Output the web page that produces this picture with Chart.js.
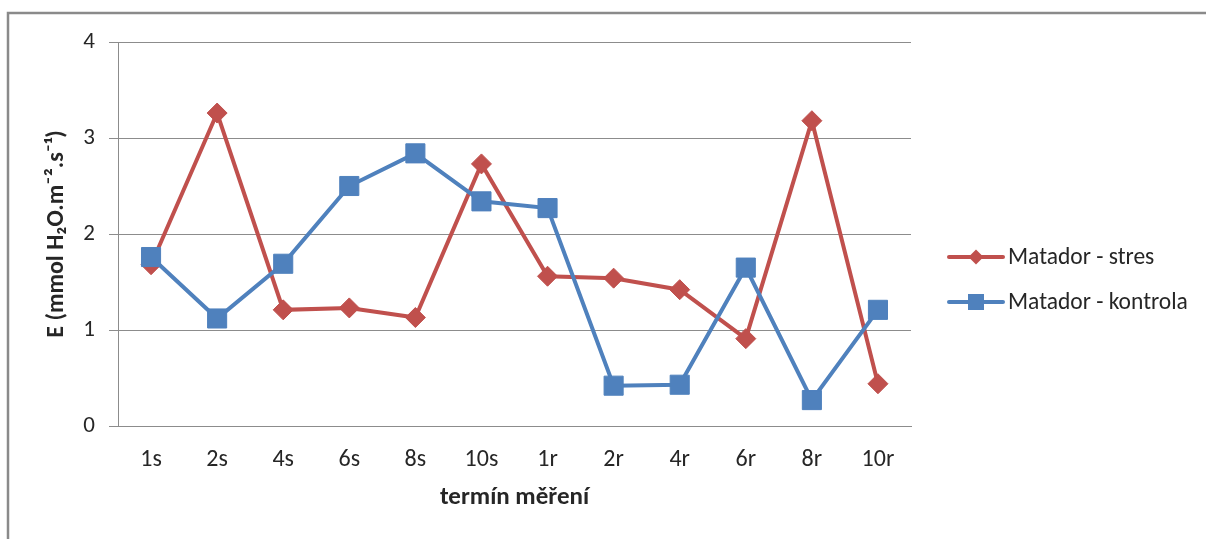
<!DOCTYPE html>
<html>
<head>
<meta charset="utf-8">
<script src="https://cdn.jsdelivr.net/npm/chart.js@4"></script>
<style>
  html, body { margin: 0; padding: 0; background: #ffffff; }
  canvas { display: block; }
</style>
</head>
<body>
<canvas id="chart" width="1206" height="539"></canvas>
<script>
// Measurement terms (s = stress phase, r = recovery phase)
const categories = ['1s', '2s', '4s', '6s', '8s', '10s', '1r', '2r', '4r', '6r', '8r', '10r'];

// Transpiration rate E (mmol H2O m-2 s-1)
const stresValues    = [1.68, 3.26, 1.21, 1.23, 1.13, 2.73, 1.56, 1.54, 1.42, 0.91, 3.18, 0.44];
const kontrolaValues = [1.76, 1.12, 1.69, 2.50, 2.84, 2.34, 2.27, 0.42, 0.43, 1.65, 0.27, 1.21];

const seriesNames = ['Matador - stres', 'Matador - kontrola'];
const yTicks = [0, 1, 2, 3, 4];
const xTitle = 'termín měření';
const yTitle = 'E (mmol H₂O.m⁻².s⁻¹)';

const FONT = 'Calibri, Carlito, Lato, sans-serif';
const RED = '#C0504D';
const BLUE = '#4F81BD';
const GRID = '#8c8c8c';
const TEXT = '#262626';

// Outer frame lines of the chart box
const framePlugin = {
  id: 'frame',
  beforeDraw(chart) {
    const ctx = chart.ctx;
    ctx.save();
    ctx.fillStyle = '#ffffff';
    ctx.fillRect(0, 0, chart.width, chart.height);
    ctx.strokeStyle = '#8a8a8a';
    ctx.lineWidth = 2.5;
    ctx.beginPath();
    ctx.moveTo(8, chart.height);
    ctx.lineTo(8, 13);
    ctx.lineTo(chart.width, 13);
    ctx.stroke();
    ctx.restore();
  }
};

// Legend with line sample + marker, drawn to the right of the plot area
const lineLegendPlugin = {
  id: 'lineLegend',
  afterDraw(chart) {
    const ctx = chart.ctx;
    const area = chart.chartArea;
    const x0 = area.right + 38;
    const x1 = x0 + 54;
    const startY = area.top + 215;
    const gap = 45;
    ctx.save();
    chart.data.datasets.forEach((ds, i) => {
      const y = startY + i * gap;
      const cx = (x0 + x1) / 2;
      ctx.strokeStyle = ds.borderColor;
      ctx.lineWidth = ds.borderWidth;
      ctx.lineCap = 'round';
      ctx.beginPath();
      ctx.moveTo(x0, y);
      ctx.lineTo(x1, y);
      ctx.stroke();
      ctx.fillStyle = ds.pointBackgroundColor;
      ctx.beginPath();
      if (ds.pointStyle === 'rectRot') {
        const r = 7.5;
        ctx.moveTo(cx, y - r);
        ctx.lineTo(cx + r, y);
        ctx.lineTo(cx, y + r);
        ctx.lineTo(cx - r, y);
        ctx.closePath();
      } else {
        const h = 8;
        ctx.rect(cx - h, y - h, 2 * h, 2 * h);
      }
      ctx.fill();
      ctx.fillStyle = TEXT;
      ctx.font = '23.5px ' + FONT;
      ctx.textAlign = 'left';
      ctx.textBaseline = 'middle';
      ctx.fillText(ds.label, x1 + 5, y + 1);
    });
    ctx.restore();
  }
};

new Chart(document.getElementById('chart'), {
  type: 'line',
  data: {
    labels: categories,
    datasets: [
      {
        label: seriesNames[0],
        data: stresValues,
        borderColor: RED,
        backgroundColor: RED,
        pointBackgroundColor: RED,
        pointBorderColor: RED,
        borderWidth: 4,
        pointStyle: 'rectRot',
        pointRadius: 10,
        pointBorderWidth: 1,
        tension: 0,
        order: 1
      },
      {
        label: seriesNames[1],
        data: kontrolaValues,
        borderColor: BLUE,
        backgroundColor: BLUE,
        pointBackgroundColor: BLUE,
        pointBorderColor: BLUE,
        borderWidth: 4,
        pointStyle: 'rect',
        pointRadius: 13.5,
        pointBorderWidth: 1,
        tension: 0,
        order: 0
      }
    ]
  },
  options: {
    responsive: false,
    animation: false,
    devicePixelRatio: 1,
    layout: { padding: { top: 42, right: 295, left: 0, bottom: 0 } },
    plugins: {
      legend: { display: false },
      tooltip: { enabled: false }
    },
    scales: {
      x: {
        type: 'category',
        offset: true,
        grid: { display: false, drawTicks: false },
        border: { display: true, color: GRID, width: 1 },
        ticks: {
          color: TEXT,
          font: { family: FONT, size: 24 },
          padding: 20,
          maxRotation: 0,
          autoSkip: false
        },
        title: {
          display: true,
          text: xTitle,
          color: TEXT,
          font: { family: FONT, size: 25, weight: 'bold', lineHeight: 1.2 },
          padding: { top: 0, bottom: 26 }
        },
        afterFit(scale) { scale.height = 113; }
      },
      y: {
        min: 0,
        max: 4,
        afterBuildTicks(scale) { scale.ticks = yTicks.map(v => ({ value: v })); },
        grid: { color: GRID, lineWidth: 1, drawTicks: true, tickLength: 9 },
        border: { display: true, color: GRID, width: 1 },
        ticks: {
          color: TEXT,
          font: { family: FONT, size: 23 },
          padding: 14
        },
        title: {
          display: true,
          text: yTitle,
          color: TEXT,
          font: { family: FONT, size: 24, weight: 'bold', lineHeight: 1.2 },
          padding: { top: 43, bottom: 0 }
        },
        afterFit(scale) { scale.width = 118; }
      }
    }
  },
  plugins: [framePlugin, lineLegendPlugin]
});
</script>
</body>
</html>
